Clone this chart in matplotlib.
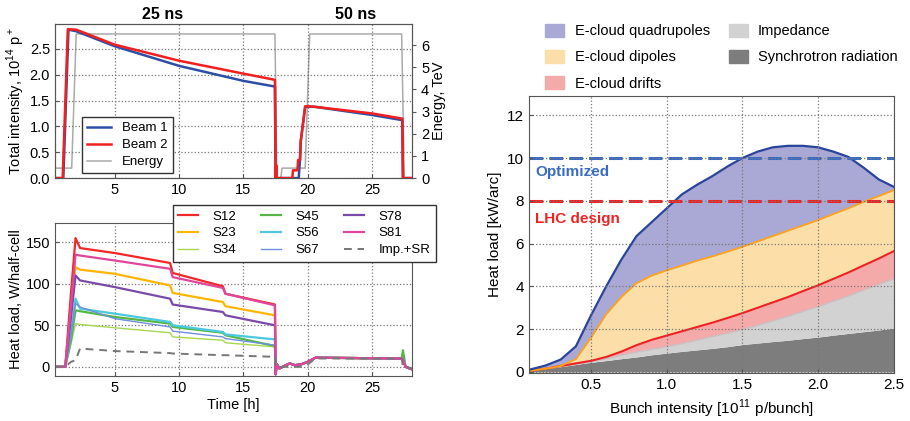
import matplotlib
matplotlib.use("Agg")
import matplotlib.pyplot as plt
import matplotlib.transforms as mtransforms
from matplotlib.patches import Patch

plt.rcParams["font.family"] = ["Liberation Sans", "DejaVu Sans"]
plt.rcParams["font.size"] = 10
plt.rcParams["mathtext.fontset"] = "custom"
plt.rcParams["mathtext.rm"] = "Liberation Sans"

# --- top-left: beam intensity and energy ---
T_B1 = [0.35, 1.0, 1.4, 2.0, 5, 10, 15, 17.45, 17.5, 19.3, 19.35, 19.4, 19.45, 19.8, 20.5, 25, 27.35, 27.4, 28.1]
BEAM1 = [0, 0, 2.87, 2.84, 2.55, 2.17, 1.88, 1.77, 0, 0, 0.2, 0.35, 0.7, 1.38, 1.38, 1.22, 1.12, 0, 0]
T_B2 = [0.35, 0.95, 1.35, 2.0, 5, 10, 15, 17.45, 17.5, 17.55, 17.6, 18.8, 18.85, 19.2, 19.25,
        19.4, 19.45, 19.8, 20.5, 25, 27.35, 27.4, 28.1]
BEAM2 = [0, 0, 2.88, 2.87, 2.58, 2.27, 2.02, 1.9, 0, 0.25, 0, 0, 0.15, 0.15, 0.35,
         0.35, 0.7, 1.39, 1.38, 1.25, 1.15, 0, 0]
T_E = [0.35, 1.65, 2.0, 17.45, 17.6, 17.9, 18.0, 19.8, 20.15, 27.3, 27.5, 28.1]
ENERGY = [0.45, 0.45, 6.5, 6.5, 0, 0, 0.45, 0.45, 6.5, 6.5, 0, 0]

# --- bottom-left: heat load per sector ---
T_FILL1 = [0.35, 1.15, 1.6, 1.95, 2.3, 5.0, 9.3, 9.5, 13.4, 13.6, 17.45]
T_FILL2 = [17.5, 17.6, 17.8, 18.3, 18.6, 19.0, 19.5, 20.0, 20.6, 27.3, 27.4, 27.6, 28.1]
HL_FILL2 = [-9, 3, -2, 2, 4, 2, 3, 6, 11, 10, 9, 0, -3]
S45_FILL2 = [-9, 3, -2, 2, 4, 2, 3, 6, 11, 10, 20, 0, -3]
IMP_FILL2 = [0, 0, 0, 0, 0, 0, 0, 3, 10, 10, 0, 0, -2]

SECTORS = ["S12", "S23", "S34", "S45", "S56", "S67", "S78", "S81"]
HL_FILL1 = {
    "S12": [0, 0, 90, 155, 143, 137, 125, 113, 97, 88, 75],
    "S23": [0, 0, 65, 120, 117, 112, 98, 89, 78, 73, 62],
    "S34": [0, 0, 28, 52, 51, 47, 41, 36, 32, 29, 24],
    "S45": [0, 0, 32, 68, 67, 60, 52, 48, 41, 38, 25],
    "S56": [0, 0, 40, 82, 70, 64, 54, 50, 42, 39, 33],
    "S67": [0, 0, 38, 76, 72, 58, 48, 43, 36, 34, 26],
    "S78": [0, 0, 60, 110, 104, 96, 82, 75, 66, 62, 50],
    "S81": [0, 0, 75, 135, 134, 128, 118, 108, 95, 88, 74],
}
IMP_FILL1 = [0, 0, 6, 8, 22, 19, 16.5, 16, 14, 14, 12]
SECTOR_COLORS = {
    "S12": "#f02828", "S23": "#ffb400", "S34": "#a8d84e", "S45": "#55b845",
    "S56": "#4cc8e0", "S67": "#6f8fdc", "S78": "#7a4aa8", "S81": "#e0479a",
}
SECTOR_LW = {"S34": 1.0, "S67": 1.0}

# --- right: heat load budget vs bunch intensity (cumulative) ---
BUNCH = [0.09, 0.2, 0.3, 0.4, 0.5, 0.6, 0.7, 0.8, 0.9, 1.0, 1.1, 1.2, 1.3, 1.4,
         1.5, 1.6, 1.7, 1.8, 1.9, 2.0, 2.1, 2.2, 2.3, 2.4, 2.5]
SR_TOP = [0.05, 0.15, 0.25, 0.35, 0.45, 0.53, 0.62, 0.7, 0.8, 0.88, 0.96, 1.03, 1.1, 1.18,
          1.28, 1.35, 1.42, 1.48, 1.56, 1.63, 1.72, 1.8, 1.88, 1.96, 2.05]
IMP_TOP = [0.05, 0.15, 0.25, 0.35, 0.5, 0.62, 0.78, 0.92, 1.05, 1.18, 1.32, 1.48, 1.65, 1.8,
           1.98, 2.17, 2.38, 2.6, 2.82, 3.05, 3.3, 3.55, 3.82, 4.08, 4.35]
DRIFT_TOP = [0.05, 0.15, 0.28, 0.4, 0.52, 0.7, 0.95, 1.25, 1.5, 1.7, 1.9, 2.1, 2.3, 2.52,
             2.75, 3.0, 3.25, 3.5, 3.78, 4.05, 4.35, 4.65, 4.98, 5.3, 5.65]
DIPOLE_TOP = [0.05, 0.15, 0.28, 0.6, 1.6, 2.7, 3.5, 4.15, 4.5, 4.75, 4.97, 5.2, 5.4, 5.62,
              5.85, 6.1, 6.35, 6.6, 6.85, 7.1, 7.38, 7.65, 7.95, 8.22, 8.5]
QUAD_TOP = [0.1, 0.3, 0.58, 1.2, 2.65, 4.0, 5.25, 6.35, 7.0, 7.65, 8.3, 8.75, 9.15, 9.6,
            10.0, 10.3, 10.5, 10.57, 10.57, 10.5, 10.3, 10.05, 9.55, 9.0, 8.65]
OPTIMIZED = 10
LHC_DESIGN = 8

GRID = dict(color="#777777", linestyle=":", linewidth=0.9)
SPINE = "#555555"


def style_axes(ax):
    for s in ax.spines.values():
        s.set_color(SPINE)
    ax.tick_params(direction="in", length=3, color=SPINE, labelsize=10.5)
    ax.grid(True, **GRID)


def main():
    fig = plt.figure(figsize=(9.1, 4.21), dpi=100)

    # top-left
    ax1 = fig.add_axes([0.0604, 0.577, 0.3923, 0.366])
    ax1e = ax1.twinx()
    ax1e.plot(T_E, ENERGY, color="#aaaaaa", lw=1.1, label="Energy")
    l1, = ax1.plot(T_B1, BEAM1, color="#2d4ea5", lw=1.8, label="Beam 1")
    l2, = ax1.plot(T_B2, BEAM2, color="#f02020", lw=1.8, label="Beam 2")
    ax1.set_zorder(ax1e.get_zorder() + 1)
    ax1.patch.set_visible(False)
    ax1.set_xlim(0.35, 28.1)
    ax1.set_ylim(0, 2.98)
    ax1e.set_ylim(0, 6.95)
    ax1.set_xticks([5, 10, 15, 20, 25])
    ax1.set_yticks([0, 0.5, 1.0, 1.5, 2.0, 2.5])
    ax1.set_yticklabels(["0.0", "0.5", "1.0", "1.5", "2.0", "2.5"])
    ax1e.set_yticks(range(7))
    style_axes(ax1)
    for s in ax1e.spines.values():
        s.set_color(SPINE)
    ax1e.tick_params(direction="out", length=3, color=SPINE, labelsize=10.5)
    ax1.set_ylabel("Total intensity, 10$^{14}$ p$^+$", fontsize=10.5, labelpad=2)
    ax1e.set_ylabel("Energy, TeV", fontsize=10.5, labelpad=2)
    le, = ax1e.get_lines()
    leg = ax1.legend([l1, l2, le], ["Beam 1", "Beam 2", "Energy"], loc="lower left",
                     bbox_to_anchor=(0.076, 0.03), borderaxespad=0, fontsize=9.5,
                     labelspacing=0.35, handlelength=1.8, handletextpad=0.8,
                     fancybox=False, framealpha=1)
    leg.get_frame().set_edgecolor("#333333")
    trans = mtransforms.blended_transform_factory(ax1.transData, fig.transFigure)
    ax1.text(8.7, 0.965, "25 ns", transform=trans, ha="center", va="center",
             fontsize=11.5, fontweight="bold")
    ax1.text(23.7, 0.965, "50 ns", transform=trans, ha="center", va="center",
             fontsize=11.5, fontweight="bold")

    # bottom-left
    ax2 = fig.add_axes([0.0604, 0.107, 0.3923, 0.363])
    t_all = T_FILL1 + T_FILL2
    for name in SECTORS:
        fill2 = S45_FILL2 if name == "S45" else HL_FILL2
        ax2.plot(t_all, HL_FILL1[name] + fill2, color=SECTOR_COLORS[name],
                 lw=SECTOR_LW.get(name, 1.6), label=name)
    ax2.plot(t_all, IMP_FILL1 + IMP_FILL2, color="#777777", lw=1.4, ls=(0, (4, 3)),
             label="Imp.+SR")
    ax2.set_xlim(0.35, 28.1)
    ax2.set_ylim(-11, 173)
    ax2.set_xticks([5, 10, 15, 20, 25])
    ax2.set_yticks([0, 50, 100, 150])
    style_axes(ax2)
    ax2.set_xlabel("Time [h]", fontsize=10.5, labelpad=2)
    ax2.set_ylabel("Heat load, W/half-cell", fontsize=10.5, labelpad=2)
    leg2 = ax2.legend(loc="upper left", bbox_to_anchor=(0.19, 0.513),
                      bbox_transform=fig.transFigure, ncol=3, fontsize=9.5,
                      labelspacing=0.35, handlelength=1.5, handletextpad=1.1,
                      columnspacing=1.9, borderaxespad=0, fancybox=False, framealpha=1)
    leg2.get_frame().set_edgecolor("#333333")

    # right
    ax3 = fig.add_axes([0.5813, 0.114, 0.401, 0.658])
    zeros = [0] * len(BUNCH)
    ax3.fill_between(BUNCH, zeros, SR_TOP, color="#7d7d7d", lw=0)
    ax3.fill_between(BUNCH, SR_TOP, IMP_TOP, color="#d2d2d2", lw=0)
    ax3.fill_between(BUNCH, IMP_TOP, DRIFT_TOP, color="#f5aaaa", lw=0)
    ax3.fill_between(BUNCH, DRIFT_TOP, DIPOLE_TOP, color="#fcdfa8", lw=0)
    ax3.fill_between(BUNCH, DIPOLE_TOP, QUAD_TOP, color="#aaa8d4", lw=0)
    ax3.plot(BUNCH, IMP_TOP, color="#c4c4c4", lw=1.0)
    ax3.plot(BUNCH, DRIFT_TOP, color="#ee2222", lw=1.5)
    ax3.plot(BUNCH, DIPOLE_TOP, color="#ffa31a", lw=1.3)
    ax3.plot(BUNCH, QUAD_TOP, color="#2a449a", lw=1.6)
    ax3.axhline(OPTIMIZED, color="#3a6cc4", lw=2.2, ls=(0, (4.5, 2)))
    ax3.axhline(LHC_DESIGN, color="#ee2424", lw=2.2, ls=(0, (4.5, 2)))
    ax3.text(0.13, 9.35, "Optimized", color="#3a6cc4", fontsize=11, fontweight="bold",
             va="center")
    ax3.text(0.13, 7.15, "LHC design", color="#ee2424", fontsize=11, fontweight="bold",
             va="center")
    ax3.set_xlim(0.09, 2.5)
    ax3.set_ylim(-0.05, 12.9)
    ax3.set_xticks([0.5, 1.0, 1.5, 2.0, 2.5])
    ax3.set_yticks([0, 2, 4, 6, 8, 10, 12])
    style_axes(ax3)
    ax3.tick_params(labelsize=11)
    ax3.set_axisbelow(False)
    ax3.set_xlabel("Bunch intensity [10$^{11}$ p/bunch]", fontsize=11, labelpad=4)
    ax3.set_ylabel("Heat load [kW/arc]", fontsize=11)

    handles = [
        Patch(color="#aaa8d4", label="E-cloud quadrupoles"),
        Patch(color="#fcdfa8", label="E-cloud dipoles"),
        Patch(color="#f5aaaa", label="E-cloud drifts"),
        Patch(color="#d2d2d2", label="Impedance"),
        Patch(color="#7d7d7d", label="Synchrotron radiation"),
    ]
    fig.legend(handles=handles, loc="upper left", bbox_to_anchor=(0.585, 0.975), ncol=2,
               frameon=False, fontsize=10.5, labelspacing=0.8, handlelength=1.3,
               handleheight=1.0, handletextpad=0.7, columnspacing=1.3)

    fig.savefig("out.png", dpi=100)


if __name__ == "__main__":
    main()
